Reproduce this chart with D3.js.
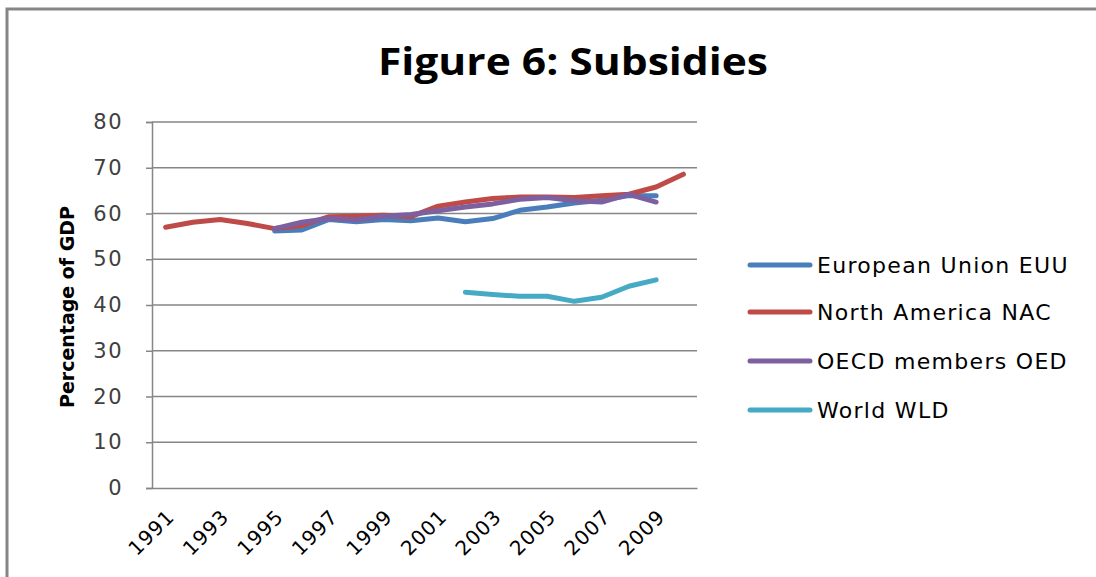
<!DOCTYPE html>
<html>
<head>
<meta charset="utf-8">
<script src="https://d3js.org/d3.v7.min.js"></script>
<style>
  body { margin: 0; background: #fff; }
  text { font-family: "DejaVu Sans", Verdana, sans-serif; }
</style>
</head>
<body>
<div id="chart"></div>
<script>
// data (null = no value)
const years = d3.range(1991, 2011).map(String);
const yTicks = [0, 10, 20, 30, 40, 50, 60, 70, 80];
const xTickLabels = ["1991", "1993", "1995", "1997", "1999", "2001", "2003", "2005", "2007", "2009"];

const euu = [null, null, null, null, 56.2, 56.4, 58.7, 58.2, 58.7, 58.4, 59.0, 58.2, 58.9, 60.7, 61.4, 62.3, 62.9, 63.9, 63.9, null];
const nac = [57.0, 58.1, 58.7, 57.8, 56.7, 57.4, 59.3, 59.4, 59.6, 59.3, 61.6, 62.5, 63.3, 63.6, 63.6, 63.5, 63.9, 64.2, 65.8, 68.6];
const oed = [null, null, null, null, 56.7, 58.1, 58.9, 58.6, 59.4, 59.8, 60.6, 61.4, 62.1, 63.1, 63.5, 62.8, 62.5, 64.2, 62.5, null];
const wld = [null, null, null, null, null, null, null, null, null, null, null, 42.8, 42.3, 41.9, 41.9, 40.8, 41.7, 44.1, 45.5, null];

const seriesNames = ["European Union EUU", "North America NAC", "OECD members OED", "World WLD"];
const seriesColors = ["#4A7EBB", "#BE4B48", "#7D60A0", "#46AAC5"];
const seriesValues = [euu, nac, oed, wld];

const W = 1096, H = 577;
const margin = {top: 122, right: 399, bottom: 89, left: 152},
    width = W - margin.left - margin.right,
    height = H - margin.top - margin.bottom;

const svg = d3.select("#chart")
  .append("svg")
    .attr("width", W)
    .attr("height", H);

// outer chart frame
svg.append("rect")
    .attr("x", 7).attr("y", 9)
    .attr("width", 1100).attr("height", 600)
    .attr("fill", "none")
    .attr("stroke", "#868686")
    .attr("stroke-width", 3);

svg.append("text")
    .attr("x", 573).attr("y", 75)
    .attr("text-anchor", "middle")
    .style("font-family", "'Open Sans', sans-serif")
    .style("font-weight", "bold")
    .style("font-size", "38px")
    .attr("textLength", 390)
    .attr("lengthAdjust", "spacingAndGlyphs")
    .text("Figure 6: Subsidies");

const g = svg.append("g")
    .attr("transform", `translate(${margin.left},${margin.top})`);

const x = d3.scaleBand()
    .domain(years)
    .range([0, width]);

const y = d3.scaleLinear()
    .domain([0, 80])
    .range([height, 0]);

// gridlines
g.append("g")
  .selectAll("line")
  .data(yTicks.filter(d => d > 0))
  .join("line")
    .attr("x1", 0).attr("x2", width)
    .attr("y1", d => y(d)).attr("y2", d => y(d))
    .attr("stroke", "#868686")
    .attr("stroke-width", 1.5);

// y axis
const yAxis = g.append("g")
    .call(d3.axisLeft(y).tickValues(yTicks).tickSize(6));
yAxis.select(".domain").attr("stroke", "#868686").attr("stroke-width", 1.5);
yAxis.selectAll(".tick line").attr("stroke", "#868686").attr("stroke-width", 1.5);
yAxis.selectAll(".tick text")
    .attr("x", -29)
    .style("font-size", "21px")
    .style("letter-spacing", "1.5px")
    .attr("fill", "#404040");

// x axis
const xAxis = g.append("g")
    .attr("transform", `translate(0,${height})`)
    .call(d3.axisBottom(x).tickValues(xTickLabels).tickSize(0).tickSizeOuter(0));
xAxis.select(".domain").attr("stroke", "#868686").attr("stroke-width", 1.5);
xAxis.selectAll(".tick text")
    .attr("text-anchor", "end")
    .attr("y", 0).attr("dy", 0)
    .attr("transform", "translate(10,30) rotate(-45)")
    .style("font-size", "20px")
    .style("letter-spacing", "1px")
    .attr("fill", "#000");

// y axis title
svg.append("text")
    .attr("transform", "translate(74,307) rotate(-90)")
    .attr("text-anchor", "middle")
    .style("font-weight", "bold")
    .style("font-size", "19px")
    .text("Percentage of GDP");

const line = d3.line()
    .defined(d => d != null)
    .x((d, i) => x(years[i]) + x.bandwidth() / 2)
    .y(d => y(d));

g.selectAll(".series")
  .data(seriesValues)
  .join("path")
    .attr("class", "series")
    .attr("fill", "none")
    .attr("stroke", (d, i) => seriesColors[i])
    .attr("stroke-width", 5)
    .attr("stroke-linejoin", "round")
    .attr("stroke-linecap", "round")
    .attr("d", line);

// legend
const legend = svg.append("g");
const rows = [265, 312, 361, 410];
seriesNames.forEach(function(name, i) {
  legend.append("line")
      .attr("x1", 750).attr("x2", 810)
      .attr("y1", rows[i]).attr("y2", rows[i])
      .attr("stroke", seriesColors[i])
      .attr("stroke-width", 5)
      .attr("stroke-linecap", "round");
  legend.append("text")
      .attr("x", 817).attr("y", rows[i] + 8)
      .style("font-size", "22px")
      .style("letter-spacing", "1.3px")
      .attr("fill", "#000")
      .text(name);
});
</script>
</body>
</html>
